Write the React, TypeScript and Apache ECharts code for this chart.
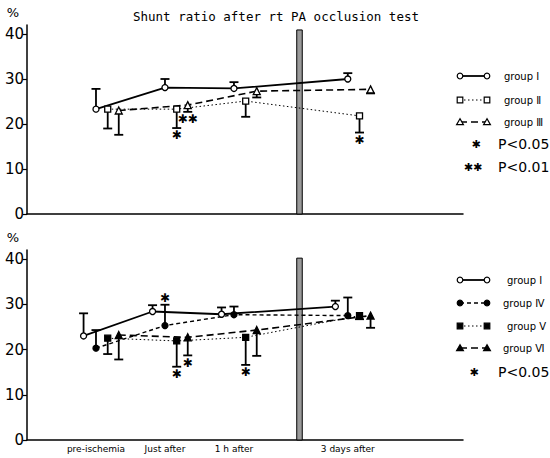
import React, { useEffect, useRef } from "react";
import * as echarts from "echarts";

// ---- data ----
const timepoints = ["pre-ischemia", "Just after", "1 h after", "3 days after"];
const timeAxisPos = [1, 2, 3, 4.65];
const yTicks = [0, 10, 20, 30, 40];

// top panel (groups I, II, III)
const topGroupI = [23.3, 28.1, 27.9, 30.0];
const topGroupISD = [4.5, 1.9, 1.4, 1.3];
const topGroupII = [23.3, 23.3, 25.1, 21.8];
const topGroupIISD = [4.3, 4.2, 3.5, 3.7];
const topGroupIISig = [0, 1, 0, 1];
const topGroupIII = [23.0, 24.2, 27.3, 27.7];
const topGroupIIISD = [5.4, 1.5, 1.4, 0.9];
const topGroupIIISig = [0, 2, 0, 0];

// bottom panel (groups I, IV, V, VI)
const botGroupI = [23.0, 28.4, 27.8, 29.5];
const botGroupISD = [5.0, 1.4, 1.5, 1.3];
const botGroupIV = [20.3, 25.3, 27.7, 27.5];
const botGroupIVSD = [4.0, 4.6, 1.8, 4.0];
const botGroupIVSig = [0, 1, 0, 0];
const botGroupV = [22.5, 21.9, 22.7, 27.5];
const botGroupVSD = [3.5, 5.7, 6.1, 0.8];
const botGroupVSig = [0, 1, 1, 0];
const botGroupVI = [23.2, 22.7, 24.3, 27.5];
const botGroupVISD = [5.4, 4.0, 5.7, 2.7];
const botGroupVISig = [0, 1, 0, 0];

const none = [0, 0, 0, 0];

type G = {
  panel: number;
  name: string;
  values: number[];
  sd: number[];
  dir: number;
  sig: number[];
  offset: number;
  symbol: string;
  filled: boolean;
  dash: any;
  width: number;
  legendY: number;
  legendX: number;
};

const groups: G[] = [
  { panel: 0, name: "group Ⅰ", values: topGroupI, sd: topGroupISD, dir: 1, sig: none, offset: 0, symbol: "circle", filled: false, dash: "solid", width: 1.8, legendY: 76, legendX: 504 },
  { panel: 0, name: "group Ⅱ", values: topGroupII, sd: topGroupIISD, dir: -1, sig: topGroupIISig, offset: 0.17, symbol: "rect", filled: false, dash: [1.5, 2.5], width: 1, legendY: 100, legendX: 504 },
  { panel: 0, name: "group Ⅲ", values: topGroupIII, sd: topGroupIIISD, dir: -1, sig: topGroupIIISig, offset: 0.33, symbol: "triangle", filled: false, dash: [7, 4], width: 1.6, legendY: 122, legendX: 504 },
  { panel: 1, name: "group Ⅰ", values: botGroupI, sd: botGroupISD, dir: 1, sig: none, offset: -0.18, symbol: "circle", filled: false, dash: "solid", width: 1.8, legendY: 280, legendX: 507 },
  { panel: 1, name: "group Ⅳ", values: botGroupIV, sd: botGroupIVSD, dir: 1, sig: botGroupIVSig, offset: 0, symbol: "circle", filled: true, dash: [4, 3], width: 1.4, legendY: 303, legendX: 503 },
  { panel: 1, name: "group Ⅴ", values: botGroupV, sd: botGroupVSD, dir: -1, sig: botGroupVSig, offset: 0.17, symbol: "rect", filled: true, dash: [1.5, 2.5], width: 1, legendY: 326, legendX: 507 },
  { panel: 1, name: "group Ⅵ", values: botGroupVI, sd: botGroupVISD, dir: -1, sig: botGroupVISig, offset: 0.33, symbol: "triangle", filled: true, dash: [7, 4], width: 1.6, legendY: 348, legendX: 503 },
];

const BREAK = [3.91, 3.99];
const BREAK_TOP = [40.9, 40.2];

function legendSymbol(kind: string, filled: boolean, cx: number, cy: number) {
  const style = { fill: filled ? "#000" : "#fff", stroke: "#000", lineWidth: 1.2 };
  if (kind === "circle") return { type: "circle", shape: { cx, cy, r: 2.8 }, style };
  if (kind === "rect") return { type: "rect", shape: { x: cx - 2.8, y: cy - 2.8, width: 5.6, height: 5.6 }, style };
  return { type: "polygon", shape: { points: [[cx, cy - 3.2], [cx - 3.4, cy + 2.6], [cx + 3.4, cy + 2.6]] }, style };
}

export default function App() {
  const ref = useRef<HTMLDivElement>(null);
  useEffect(() => {
    if (!ref.current) return;
    const chart = echarts.init(ref.current, undefined, { renderer: "svg" });

    const series: any[] = [];
    groups.forEach((g, gi) => {
      const xs = g.values.map((_, i) => timeAxisPos[i] + g.offset);
      series.push({
        type: "custom",
        name: g.name + "-err",
        xAxisIndex: g.panel,
        yAxisIndex: g.panel,
        z: 1,
        silent: true,
        data: g.values.map((v, i) => [xs[i], v, v + g.dir * g.sd[i], g.sig[i], g.dir]),
        renderItem: (params: any, api: any) => {
          const x = api.value(0);
          const y = api.value(1);
          const end = api.value(2);
          const sig = api.value(3);
          const dir = api.value(4);
          const p = api.coord([x, y]);
          const e = api.coord([x, end]);
          const children: any[] = [
            { type: "line", shape: { x1: p[0], y1: p[1], x2: e[0], y2: e[1] }, style: { stroke: "#000", lineWidth: 1.8 } },
            { type: "line", shape: { x1: e[0] - 4.5, y1: e[1], x2: e[0] + 4.5, y2: e[1] }, style: { stroke: "#000", lineWidth: 1.8 } },
          ];
          if (sig > 0) {
            const s = api.coord([x, end + dir * 1.6]);
            children.push({
              type: "text",
              x: s[0],
              y: s[1],
              style: {
                text: sig === 2 ? "✱✱" : "✱",
                fontSize: 12,
                fontWeight: "bold",
                fontFamily: "DejaVu Sans",
                fill: "#000",
                align: "center",
                verticalAlign: "middle",
              },
            });
          }
          return { type: "group", children };
        },
      });
      const line: any = {
        type: "line",
        name: g.name,
        xAxisIndex: g.panel,
        yAxisIndex: g.panel,
        z: 3,
        data: g.values.map((v, i) => [xs[i], v]),
        symbol: g.symbol,
        symbolSize: g.symbol === "triangle" ? 7 : 6,
        showSymbol: true,
        lineStyle: { color: "#000", width: g.width, type: g.dash },
        itemStyle: { color: g.filled ? "#000" : "#fff", borderColor: "#000", borderWidth: 1.3 },
      };
      if (gi === 0 || gi === 3) {
        line.markArea = {
          silent: true,
          itemStyle: { color: "#9a9a9a", borderColor: "#000", borderWidth: 1 },
          data: [[{ xAxis: BREAK[0], yAxis: 0 }, { xAxis: BREAK[1], yAxis: BREAK_TOP[g.panel] }]],
        };
      }
      series.push(line);
    });

    const graphics: any[] = [];
    groups.forEach((g) => {
      const y = g.legendY;
      graphics.push({
        type: "line",
        shape: { x1: 460, y1: y, x2: 487, y2: y },
        style: { stroke: "#000", lineWidth: g.width, lineDash: g.dash === "solid" ? null : g.dash },
      });
      graphics.push(legendSymbol(g.symbol, g.filled, 460, y));
      graphics.push(legendSymbol(g.symbol, g.filled, 487, y));
      graphics.push({
        type: "text",
        x: g.legendX,
        y,
        style: { text: g.name, fontSize: 10, fontFamily: "DejaVu Sans", fill: "#000", verticalAlign: "middle" },
      });
    });
    const pLegend = [
      { star: "✱", text: "P<0.05", x: 476, y: 144 },
      { star: "✱✱", text: "P<0.01", x: 473, y: 167 },
      { star: "✱", text: "P<0.05", x: 474, y: 372 },
    ];
    pLegend.forEach((p) => {
      graphics.push({
        type: "text",
        x: p.x,
        y: p.y,
        style: { text: p.star, fontSize: 11, fontWeight: "bold", fontFamily: "DejaVu Sans", fill: "#000", align: "center", verticalAlign: "middle" },
      });
      graphics.push({
        type: "text",
        x: 498,
        y: p.y,
        style: { text: p.text, fontSize: 14, fontFamily: "DejaVu Sans", fill: "#000", verticalAlign: "middle" },
      });
    });

    const yAxis = (gi: number) => ({
      gridIndex: gi,
      type: "value",
      min: 0,
      max: 42,
      name: "%",
      nameLocation: "end",
      nameGap: 6,
      nameTextStyle: { fontSize: 13, color: "#000", align: "right", padding: [0, 8, 0, 0], fontFamily: "DejaVu Sans" },
      axisLine: { show: true, lineStyle: { color: "#000", width: 1.5 } },
      axisTick: { show: true, customValues: yTicks, length: 4, lineStyle: { color: "#000", width: 1.2 } },
      axisLabel: { customValues: yTicks, fontSize: 15, color: "#000", margin: 3, fontFamily: "DejaVu Sans" },
      splitLine: { show: false },
    });
    const xAxis = (gi: number, labels: boolean) => ({
      gridIndex: gi,
      type: "value",
      min: 0,
      max: 6.32,
      axisLine: { show: true, onZero: false, lineStyle: { color: "#000", width: 1.5 } },
      axisTick: { show: false },
      splitLine: { show: false },
      axisLabel: labels
        ? {
            show: true,
            customValues: timeAxisPos,
            fontSize: 9,
            margin: 4,
            color: "#000",
            fontFamily: "DejaVu Sans",
            formatter: (v: number) => {
              let best = 0;
              timeAxisPos.forEach((p, i) => {
                if (Math.abs(p - v) < Math.abs(timeAxisPos[best] - v)) best = i;
              });
              return timepoints[best];
            },
          }
        : { show: false },
    });

    chart.setOption({
      animation: false,
      backgroundColor: "#fff",
      title: {
        text: "Shunt ratio after rt PA occlusion test",
        left: 128,
        top: 5,
        textStyle: { fontSize: 12.5, fontWeight: "normal", color: "#000", fontFamily: "DejaVu Sans Mono" },
      },
      grid: [
        { left: 27, top: 25, width: 436, height: 189 },
        { left: 27, top: 250, width: 436, height: 190 },
      ],
      xAxis: [xAxis(0, false), xAxis(1, true)],
      yAxis: [yAxis(0), yAxis(1)],
      series,
      graphic: graphics,
    });
    return () => chart.dispose();
  }, []);
  return <div ref={ref} style={{ position: "absolute", left: 0, top: 0, width: 550, height: 458 }} />;
}
